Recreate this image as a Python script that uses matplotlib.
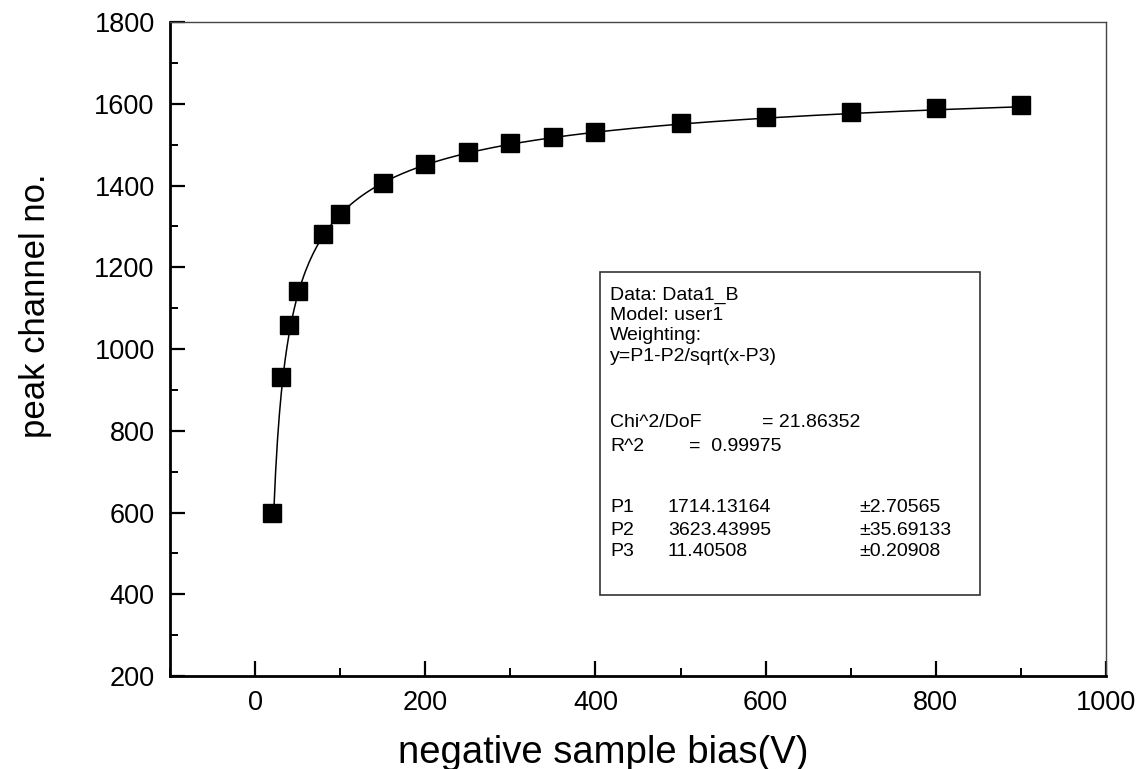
import numpy as np
import matplotlib
matplotlib.use("Agg")
import matplotlib.pyplot as plt
from matplotlib.patches import Rectangle
from matplotlib.ticker import MultipleLocator

plt.rcParams['font.family'] = ['Liberation Sans', 'DejaVu Sans']

# data
bias = [20, 30, 40, 50, 80, 100, 150, 200, 250, 300, 350, 400, 500, 600, 700, 800, 900]
peak = [600, 931, 1058, 1143, 1281, 1330, 1407, 1452, 1481, 1503, 1519, 1532, 1554, 1567, 1580, 1590, 1597]

# fit parameters printed in the box
P1, P2, P3 = 1714.13164, 3623.43995, 11.40508
fit_box = ["Data: Data1_B", "Model: user1", "Weighting:", "y=P1-P2/sqrt(x-P3)"]
stats = [("Chi^2/DoF", "= 21.86352"), ("R^2", "=  0.99975")]
params = [("P1", "1714.13164", "\u00b12.70565"),
          ("P2", "3623.43995", "\u00b135.69133"),
          ("P3", "11.40508", "\u00b10.20908")]

fig = plt.figure(figsize=(11.46, 7.69), dpi=100)
ax = fig.add_axes([0.1483, 0.1209, 0.8168, 0.8505])

# fit curve, starting where it meets the first point
x0 = P3 + (P2 / (P1 - peak[0])) ** 2
xf = np.linspace(x0, bias[-1], 400)
ax.plot(xf, P1 - P2 / np.sqrt(xf - P3), color='black', lw=1.1)
ax.plot(bias, peak, linestyle='none', marker='s', markersize=12.5,
        color='black')

ax.set_xlim(-100, 1000)
ax.set_ylim(200, 1800)
ax.xaxis.set_major_locator(MultipleLocator(200))
ax.xaxis.set_minor_locator(MultipleLocator(100))
ax.yaxis.set_major_locator(MultipleLocator(200))
ax.yaxis.set_minor_locator(MultipleLocator(100))
ax.tick_params(which='major', direction='in', length=11, width=1.6,
               top=False, right=False)
ax.tick_params(which='minor', direction='in', length=5.5, width=1.4,
               top=False, right=False)
ax.tick_params(axis='y', labelsize=19.5, pad=11)
ax.tick_params(axis='x', labelsize=19.5, pad=10)
ax.set_xticks([0, 200, 400, 600, 800, 1000])

for s in ('left', 'bottom'):
    ax.spines[s].set_linewidth(2.0)
for s in ('top', 'right'):
    ax.spines[s].set_linewidth(1.0)
    ax.spines[s].set_color('#444444')

fig.text(0.526, 0.008, "negative sample bias(V)",
         fontsize=27.5, ha='center', va='baseline')
fig.text(0.031, 0.603, "peak channel no.",
         fontsize=25, ha='center', va='center', rotation=90)

# fit result box
ax.add_patch(Rectangle((0.459, 0.124), 0.406, 0.494, transform=ax.transAxes,
                       fill=False, edgecolor='#333333', lw=1.2))
fs = 14
ys = [0.5826, 0.5515, 0.5204, 0.4893]
for t, y in zip(fit_box, ys):
    ax.text(0.4705, y, t, transform=ax.transAxes, fontsize=fs, va='center')
for (a, b), y, xb in zip(stats, [0.3869, 0.3502], [0.6325, 0.5550]):
    ax.text(0.4705, y, a, transform=ax.transAxes, fontsize=fs, va='center')
    ax.text(xb, y, b, transform=ax.transAxes, fontsize=fs, va='center')
for (a, b, c), y in zip(params, [0.2584, 0.2232, 0.1911]):
    ax.text(0.4705, y, a, transform=ax.transAxes, fontsize=fs, va='center')
    ax.text(0.532, y, b, transform=ax.transAxes, fontsize=fs, va='center')
    ax.text(0.737, y, c, transform=ax.transAxes, fontsize=fs, va='center')

fig.savefig("out.png", dpi=100)
